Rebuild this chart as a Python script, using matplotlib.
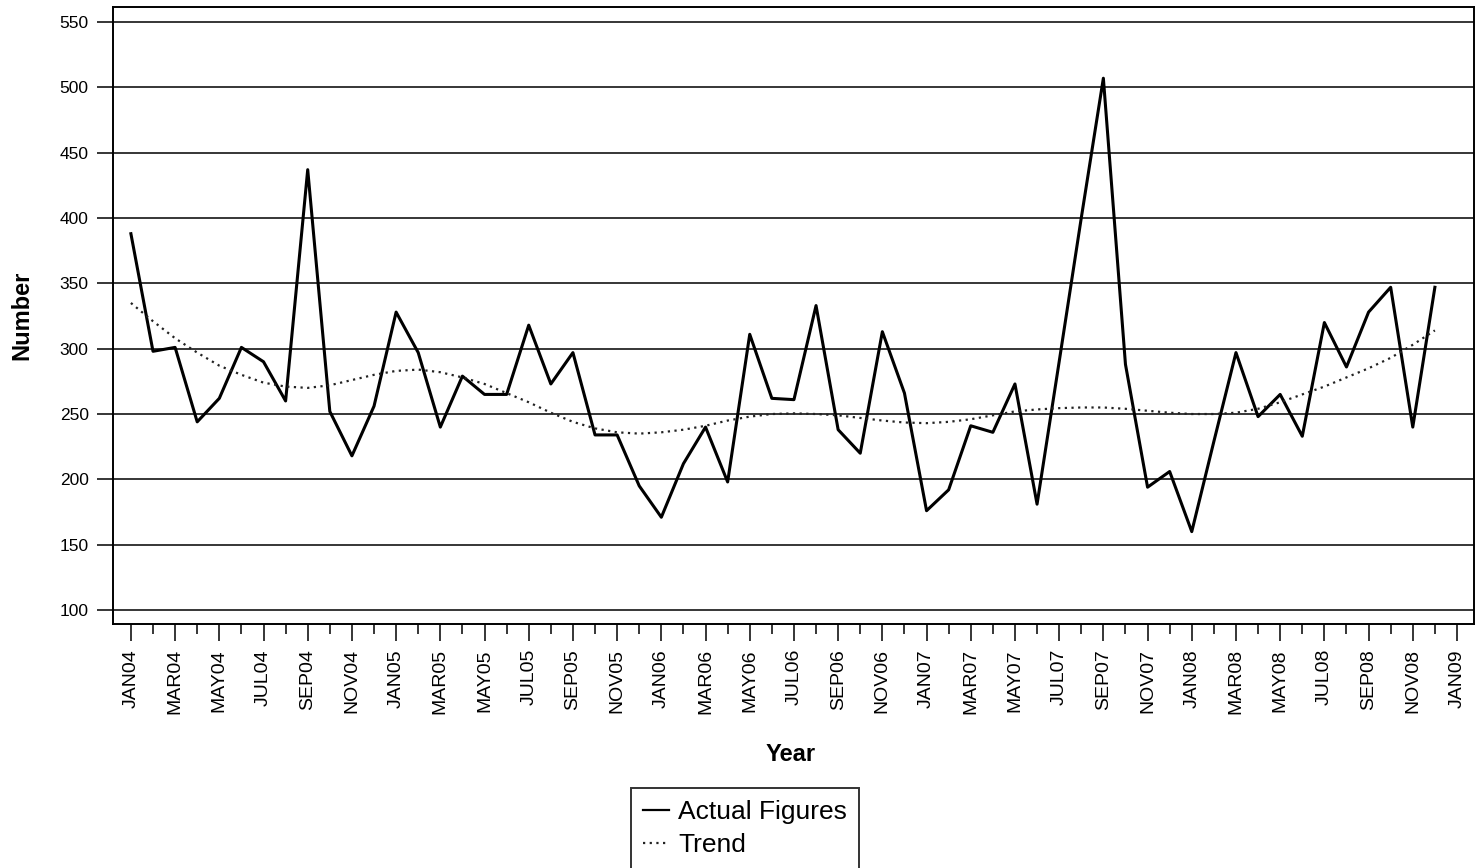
import numpy as np
import matplotlib
matplotlib.use("Agg")
import matplotlib.pyplot as plt
from matplotlib.ticker import FixedLocator, FixedFormatter

plt.rcParams['font.family'] = ['Liberation Sans', 'DejaVu Sans']

# monthly figures, JAN04 .. DEC08
actual = [388, 298, 301, 244, 262, 301, 290, 260, 437, 252, 218, 256,
          328, 297, 240, 279, 265, 265, 318, 273, 297, 234, 234, 195,
          171, 212, 240, 198, 311, 262, 261, 333, 238, 220, 313, 266,
          176, 192, 241, 236, 273, 181, 290, 400, 507, 288, 194, 206,
          160, 229, 297, 248, 265, 233, 320, 286, 328, 347, 240, 347]

trend = [335, 321, 308, 297, 287, 280, 274, 271, 270, 272, 276, 280,
         283, 284, 282, 278, 273, 266, 259, 251, 244, 239, 236, 235,
         236, 238, 241, 245, 248, 250, 250.5, 250, 249, 247, 245, 243.5,
         243, 244, 246, 249, 252, 253.5, 254.5, 255, 255, 254, 252.5, 251,
         250, 250, 251, 254, 259, 265, 271, 278, 285, 293, 303, 314]

months = ['JAN', 'MAR', 'MAY', 'JUL', 'SEP', 'NOV']
years = ['04', '05', '06', '07', '08']
tick_labels = [m + y for y in years for m in months] + ['JAN09']

x = np.arange(len(actual))

fig = plt.figure(figsize=(14.76, 8.68), dpi=100)
ax = fig.add_axes([113 / 1476, 1 - 624 / 868, (1474 - 113) / 1476, (624 - 7) / 868])

ax.plot(x, actual, color='black', lw=2.2, label='Actual Figures', zorder=3)
ax.plot(x, trend, color='#222222', lw=1.6, linestyle=(0, (1, 2)),
        label='Trend', zorder=3)

ax.set_xlim(-0.81, 60.77)
ax.set_ylim(89.3, 561.5)

ax.set_yticks(np.arange(100, 551, 50))
ax.yaxis.grid(True, color='black', lw=1.1)
ax.set_axisbelow(True)

ax.xaxis.set_major_locator(FixedLocator(np.arange(0, 61, 2)))
ax.xaxis.set_major_formatter(FixedFormatter(tick_labels))
ax.xaxis.set_minor_locator(FixedLocator(np.arange(1, 61, 2)))

ax.tick_params(axis='y', direction='out', length=11.5, width=1.1, pad=6,
               labelsize=12.5)
ax.tick_params(axis='x', which='major', direction='out', length=12, width=1.1,
               pad=6, labelsize=14, labelrotation=90)
ax.tick_params(axis='x', which='minor', direction='out', length=7, width=1.1)

for s in ax.spines.values():
    s.set_color('black')
    s.set_linewidth(1.4)

ax.set_xlabel('Year', fontsize=17, fontweight='bold')
ax.xaxis.set_label_coords(0.498, -0.193)
ax.set_ylabel('Number', fontsize=17, fontweight='bold')
ax.yaxis.set_label_coords(-0.0588, 0.5)

leg = fig.legend(loc='upper left', bbox_to_anchor=(631 / 1476, 1 - 788 / 868),
                 fontsize=19, frameon=True, fancybox=False, handlelength=1.0,
                 handletextpad=0.35, borderpad=0.45, labelspacing=0.34,
                 borderaxespad=0)
leg.get_frame().set_edgecolor('black')
leg.get_frame().set_linewidth(1.4)
for h in leg.get_lines():
    h.set_linewidth(1.6)

fig.savefig('out.png', dpi=100)
